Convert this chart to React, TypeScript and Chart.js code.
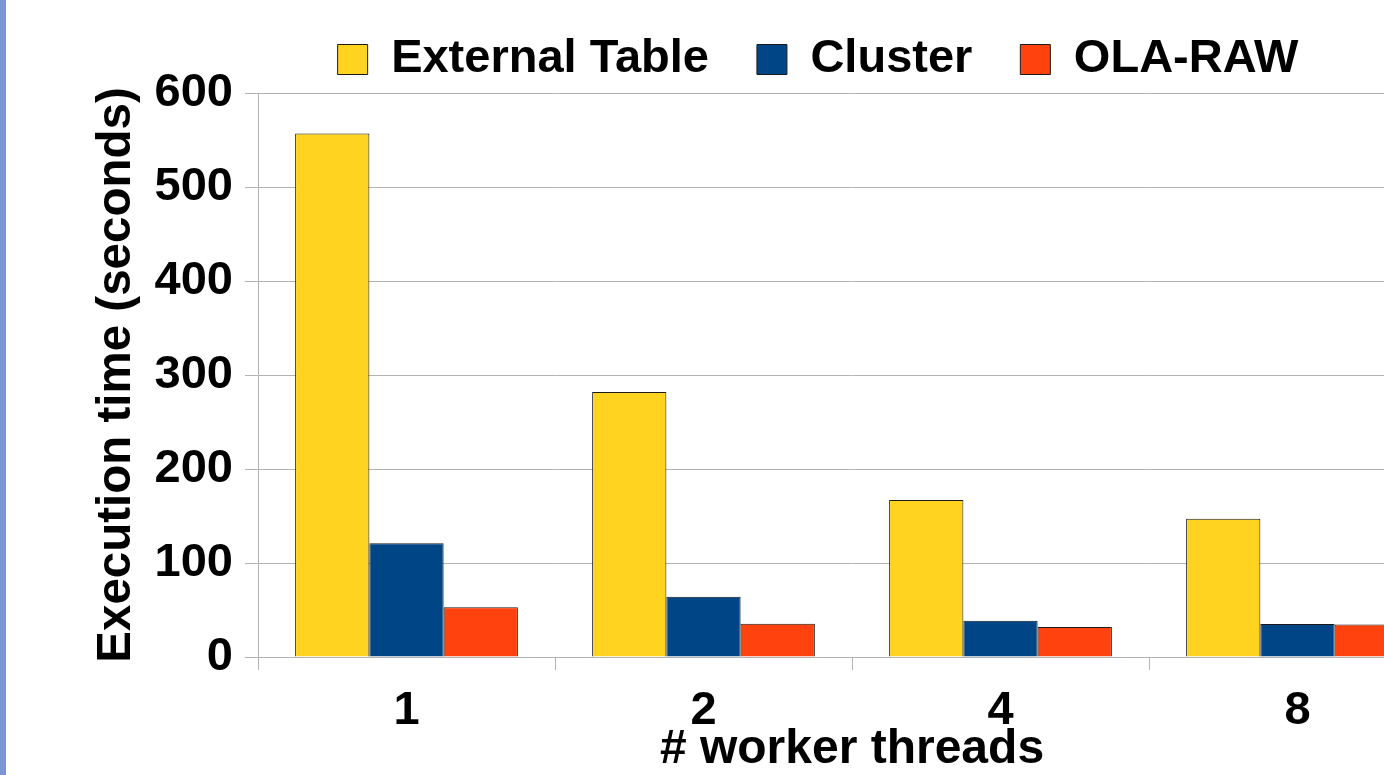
import React, { useEffect, useRef } from 'react';
import { Chart, registerables } from 'chart.js';

Chart.register(...registerables);

// ---- data ----
const categories = ['1', '2', '4', '8'];
const seriesNames = ['External Table', 'Cluster', 'OLA-RAW'];
const externalTable = [557, 282, 167, 147];
const cluster = [121, 64, 38.5, 35];
const olaRaw = [53, 35.5, 32, 34.5];
const yMin = 0;
const yMax = 600;
const yStep = 100;
const xTitle = '# worker threads';
const yTitle = 'Execution time (seconds)';

// ---- layout constants ----
const OY = 15; // canvas is shifted up by this many px inside a clipping frame
const CANVAS_W = 1576;
const CANVAS_H = 820;
const PLOT_LEFT = 258;
const PLOT_TOP = 93 + OY;
const PLOT_BOTTOM = 657 + OY;
const PAD_LEFT = 60;
const RIGHT_SPACER = 130;

const FONT = "'Liberation Sans', Arial, sans-serif";

export default function App() {
  const ref = useRef<HTMLCanvasElement>(null);

  useEffect(() => {
    const canvas = ref.current;
    if (!canvas) return;
    const chart = new Chart(canvas, {
      type: 'bar',
      data: {
        labels: categories,
        datasets: [
          { label: seriesNames[0], data: externalTable, backgroundColor: '#ffd320', borderColor: '#1a1a1a', borderWidth: 1 },
          { label: seriesNames[1], data: cluster, backgroundColor: '#004586', borderColor: '#1a1a1a', borderWidth: 1 },
          { label: seriesNames[2], data: olaRaw, backgroundColor: '#ff420e', borderColor: '#1a1a1a', borderWidth: 1 },
        ],
      },
      options: {
        responsive: false,
        animation: false,
        layout: { padding: { left: PAD_LEFT, right: 0, top: 0, bottom: 0 } },
        datasets: { bar: { categoryPercentage: 0.75, barPercentage: 1 } },
        plugins: {
          legend: {
            position: 'top',
            labels: {
              boxWidth: 30,
              boxHeight: 30,
              padding: 48,
              color: '#000',
              font: { family: FONT, size: 47, weight: 'bold' },
            },
          },
          tooltip: { enabled: false },
        },
        scales: {
          x: {
            grid: { drawOnChartArea: false, drawTicks: true, tickLength: 13, color: '#b3b3b3' },
            border: { color: '#b3b3b3' },
            ticks: { padding: 13, color: '#000', font: { family: FONT, size: 47, weight: 'bold' } },
            title: {
              display: true,
              text: xTitle,
              color: '#000',
              font: { family: FONT, size: 48, weight: 'bold' },
              padding: { top: 0, bottom: 26 },
            },
            afterFit: (s: any) => {
              s.height = CANVAS_H - PLOT_BOTTOM;
            },
          },
          y: {
            min: yMin,
            max: yMax,
            ticks: { stepSize: yStep, padding: 12, color: '#000', font: { family: FONT, size: 47, weight: 'bold' } },
            grid: { color: '#b3b3b3', tickLength: 13 },
            border: { color: '#b3b3b3' },
            title: {
              display: true,
              text: yTitle,
              color: '#000',
              font: { family: FONT, size: 47.5, weight: 'bold' },
              padding: { top: 28, bottom: 0 },
            },
            afterFit: (s: any) => {
              s.width = PLOT_LEFT - PAD_LEFT;
              s.paddingTop = PLOT_TOP;
            },
          },
          // invisible spacer on the right (the original chart continues past the page edge)
          spacer: {
            type: 'linear',
            axis: 'y',
            position: 'right',
            display: true,
            grid: { display: false, drawTicks: false },
            border: { display: false },
            ticks: { display: false },
            afterFit: (s: any) => {
              s.width = RIGHT_SPACER;
            },
          },
        },
      },
    } as any);
    return () => chart.destroy();
  }, []);

  return (
    <div
      style={{
        position: 'fixed',
        left: 0,
        top: 0,
        width: 1384,
        height: 775,
        overflow: 'hidden',
        background: '#fff',
      }}
    >
      <canvas
        ref={ref}
        width={CANVAS_W}
        height={CANVAS_H}
        style={{ position: 'absolute', left: 0, top: -OY, width: CANVAS_W, height: CANVAS_H }}
      />
      <div style={{ position: 'absolute', left: 0, top: 0, width: 6, height: 775, background: '#7a96d6' }} />
    </div>
  );
}
